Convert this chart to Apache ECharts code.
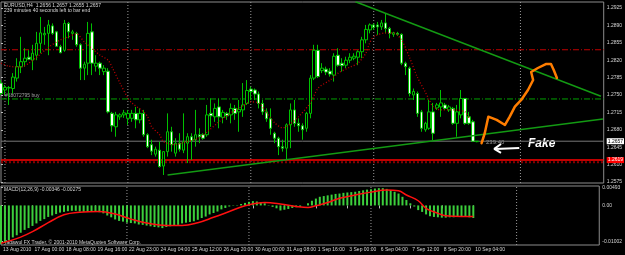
<!DOCTYPE html>
<html><head><meta charset="utf-8">
<script src="https://cdn.jsdelivr.net/npm/echarts@6/dist/echarts.min.js"></script>
<style>html,body{margin:0;padding:0;background:#000;}#c{width:625px;height:255px;}</style>
</head><body><div id="c"></div><script>
const timeLabels = ['13 Aug 2010','17 Aug 00:00','18 Aug 08:00','19 Aug 16:00','22 Aug 23:00','24 Aug 04:00','25 Aug 12:00','26 Aug 20:00','30 Aug 00:00','31 Aug 08:00','1 Sep 16:00','3 Sep 00:00','6 Sep 04:00','7 Sep 12:00','8 Sep 20:00','10 Sep 04:00'];
const opens = [1.2774,1.2760,1.2764,1.2763,1.2784,1.2807,1.2817,1.2826,1.2820,1.2830,
1.2854,1.2871,1.2874,1.2889,1.2877,1.2847,1.2840,1.2894,1.2874,1.2874,
1.2851,1.2804,1.2814,1.2877,1.2808,1.2814,1.2797,1.2798,1.2713,1.2686,
1.2706,1.2710,1.2703,1.2703,1.2713,1.2700,1.2713,1.2670,1.2650,1.2631,
1.2639,1.2607,1.2636,1.2676,1.2633,1.2653,1.2639,1.2653,1.2666,1.2660,
1.2670,1.2670,1.2670,1.2713,1.2706,1.2726,1.2705,1.2713,1.2710,1.2723,
1.2716,1.2720,1.2733,1.2762,1.2760,1.2752,1.2733,1.2716,1.2702,1.2673,
1.2663,1.2646,1.2643,1.2690,1.2720,1.2693,1.2688,1.2683,1.2713,1.2784,
1.2840,1.2799,1.2802,1.2798,1.2790,1.2830,1.2814,1.2810,1.2820,1.2824,
1.2826,1.2837,1.2861,1.2881,1.2891,1.2891,1.2887,1.2895,1.2884,1.2872,
1.2874,1.2872,1.2814,1.2804,1.2750,1.2753,1.2716,1.2680,1.2683,1.2716,
1.2724,1.2726,1.2730,1.2720,1.2723,1.2693,1.2710,1.2743,1.2706,1.2696,1.2656];
const closes = [1.2753,1.2765,1.2765,1.2786,1.2807,1.2817,1.2824,1.2822,1.2834,1.2854,
1.2875,1.2874,1.2891,1.2874,1.2848,1.2835,1.2894,1.2877,1.2877,1.2851,
1.2804,1.2812,1.2874,1.2814,1.2814,1.2804,1.2804,1.2716,1.2688,1.2710,
1.2710,1.2714,1.2713,1.2713,1.2700,1.2713,1.2670,1.2646,1.2637,1.2641,
1.2606,1.2636,1.2676,1.2650,1.2653,1.2641,1.2656,1.2666,1.2658,1.2670,
1.2666,1.2663,1.2710,1.2708,1.2723,1.2706,1.2715,1.2708,1.2723,1.2713,
1.2721,1.2730,1.2759,1.2757,1.2752,1.2733,1.2716,1.2702,1.2683,1.2663,
1.2646,1.2643,1.2690,1.2720,1.2693,1.2688,1.2680,1.2713,1.2784,1.2840,
1.2787,1.2804,1.2796,1.2792,1.2828,1.2810,1.2809,1.2820,1.2826,1.2828,
1.2837,1.2861,1.2882,1.2891,1.2886,1.2887,1.2895,1.2884,1.2874,1.2875,
1.2872,1.2814,1.2807,1.2753,1.2757,1.2713,1.2683,1.2693,1.2716,1.2673,
1.2730,1.2734,1.2723,1.2726,1.2693,1.2716,1.2743,1.2693,1.2693,1.2657,1.2657];
const highs = [1.2780,1.2770,1.2768,1.2794,1.2824,1.2867,1.2844,1.2840,1.2851,1.2877,
1.2907,1.2887,1.2901,1.2894,1.2879,1.2851,1.2901,1.2897,1.2881,1.2877,
1.2854,1.2817,1.2897,1.2894,1.2830,1.2817,1.2810,1.2804,1.2716,1.2716,
1.2713,1.2720,1.2720,1.2720,1.2726,1.2723,1.2720,1.2673,1.2660,1.2646,
1.2656,1.2637,1.2713,1.2686,1.2663,1.2673,1.2713,1.2673,1.2673,1.2720,
1.2683,1.2673,1.2730,1.2743,1.2733,1.2743,1.2720,1.2716,1.2733,1.2730,
1.2740,1.2774,1.2780,1.2767,1.2763,1.2757,1.2740,1.2723,1.2723,1.2676,
1.2666,1.2660,1.2693,1.2733,1.2740,1.2703,1.2693,1.2716,1.2790,1.2851,
1.2851,1.2814,1.2807,1.2804,1.2834,1.2844,1.2824,1.2827,1.2834,1.2834,
1.2840,1.2867,1.2891,1.2894,1.2894,1.2897,1.2901,1.2914,1.2887,1.2877,
1.2877,1.2874,1.2817,1.2807,1.2763,1.2757,1.2720,1.2696,1.2740,1.2734,
1.2734,1.2760,1.2734,1.2730,1.2726,1.2730,1.2760,1.2744,1.2716,1.2700,1.2657];
const lows = [1.2750,1.2750,1.2730,1.2753,1.2777,1.2794,1.2807,1.2820,1.2800,1.2820,
1.2834,1.2851,1.2830,1.2871,1.2847,1.2834,1.2837,1.2864,1.2861,1.2847,
1.2780,1.2780,1.2790,1.2790,1.2797,1.2790,1.2790,1.2713,1.2676,1.2666,
1.2700,1.2704,1.2690,1.2696,1.2683,1.2693,1.2666,1.2643,1.2629,1.2626,
1.2604,1.2589,1.2626,1.2636,1.2626,1.2636,1.2633,1.2613,1.2619,1.2646,
1.2653,1.2660,1.2666,1.2686,1.2696,1.2683,1.2693,1.2700,1.2693,1.2700,
1.2676,1.2706,1.2730,1.2740,1.2740,1.2723,1.2710,1.2696,1.2670,1.2653,
1.2629,1.2636,1.2619,1.2643,1.2686,1.2676,1.2660,1.2676,1.2703,1.2780,
1.2784,1.2794,1.2790,1.2787,1.2777,1.2807,1.2797,1.2804,1.2814,1.2820,
1.2810,1.2824,1.2854,1.2874,1.2881,1.2871,1.2881,1.2874,1.2864,1.2867,
1.2869,1.2810,1.2790,1.2747,1.2740,1.2706,1.2676,1.2676,1.2680,1.2659,
1.2720,1.2706,1.2720,1.2716,1.2690,1.2666,1.2703,1.2690,1.2690,1.2656,1.2655];
// dotted moving average, read at sampled bars
const maPoints = {0:1.2814,2:1.2808,5:1.2806,7:1.2814,9:1.2826,12:1.2846,15:1.2861,17:1.2867,19:1.2873,21:1.2857,25:1.2830,27:1.2820,28:1.2806,30:1.2774,32:1.2744,33:1.2734,36:1.2716,37:1.2706,38:1.2686,40:1.2670,41:1.2656,44:1.2650,46:1.2654,50:1.2664,52:1.2676,55:1.2696,58:1.2714,61:1.2728,63:1.2736,65:1.2734,67:1.2714,69:1.2694,71:1.2684,72:1.2686,75:1.2706,78:1.2734,80:1.2764,83:1.2780,85:1.2794,88:1.2806,90:1.2814,92:1.2834,93:1.2855,94:1.2867,97:1.2875,99:1.2875,101:1.2861,103:1.2826,105:1.2786,107:1.2756,108:1.2740,109:1.2726,111:1.2720,114:1.2720,117:1.2716,118:1.2704};
const macdMain = [-0.0107,-0.0104,-0.0097,-0.0089,-0.0083,-0.0076,-0.0068,-0.0063,-0.0057,-0.0050,
-0.0043,-0.0038,-0.0032,-0.0028,-0.0024,-0.0020,-0.0018,-0.0016,-0.0015,-0.0015,
-0.0017,-0.0018,-0.0018,-0.0018,-0.0018,-0.0019,-0.0022,-0.0028,-0.0033,-0.0039,
-0.0043,-0.0045,-0.0048,-0.0049,-0.0050,-0.0053,-0.0054,-0.0056,-0.0058,-0.0060,
-0.0061,-0.0063,-0.0060,-0.0058,-0.0056,-0.0054,-0.0050,-0.0048,-0.0046,-0.0044,
-0.0040,-0.0035,-0.0031,-0.0025,-0.0021,-0.0017,-0.0011,-0.0007,-0.0003,-0.0001,
0.0001,0.0004,0.0007,0.0010,0.0012,0.0011,0.0008,0.0006,0.0001,-0.0004,
-0.0008,-0.0014,-0.0012,-0.0010,-0.0007,-0.0005,-0.0004,0.0000,0.0006,0.0013,
0.0019,0.0024,0.0026,0.0028,0.0030,0.0032,0.0033,0.0035,0.0036,0.0037,
0.0038,0.0040,0.0042,0.0044,0.0045,0.0047,0.0048,0.0048,0.0046,0.0043,
0.0038,0.0033,0.0024,0.0015,0.0006,-0.0003,-0.0013,-0.0018,-0.0025,-0.0030,
-0.0032,-0.0033,-0.0034,-0.0034,-0.0033,-0.0033,-0.0031,-0.0031,-0.0031,-0.0033,-0.0035];
const signalPoints = {0:-0.0105,5:-0.0088,8:-0.0073,12:-0.0048,16:-0.0026,20:-0.0019,25:-0.0017,29:-0.0024,33:-0.0038,37:-0.0049,42:-0.0056,46:-0.0056,50:-0.0048,54:-0.0033,58:-0.0017,62:-0.0001,67:0.0008,71:0.0004,75:-0.0003,78:-0.0006,80:-0.0001,83:0.0008,86:0.0020,90:0.0029,94:0.0037,98:0.0043,101:0.0041,103:0.0029,106:0.0013,108:-0.0008,111:-0.0022,113:-0.0029,117:-0.0031,120:-0.0031};
const priceTicks = [1.2925,1.2890,1.2855,1.2820,1.2785,1.2750,1.2715,1.2680,1.2645,1.2610,1.2575];
const macdTicks = [0.00493,0,-0.01002];
const takeProfit = 1.2841, buyOpen = 1.2742, bidPrice = 1.2657, stopLoss = 1.2619, stopLoss2 = 1.26147;
const separators = [1,32,63,94,131];
const trendDown = [[89.4,1.29375],[151.3,1.27474]];
const trendUp = [[42.0,1.25892],[151.8,1.27018]];
const orangePath = [[121.2,1.26529],[122.0,1.26730],[122.9,1.27064],[125.0,1.26998],[127.1,1.26897],[128.3,1.27064],[129.6,1.27265],[131.2,1.27400],[132.9,1.27601],[134.2,1.27802],[133.7,1.27962],[135.4,1.28043],[137.4,1.28123],[138.7,1.28123],[139.4,1.28003],[140.2,1.27842]];
const arrowShaft = [[124.6,1.26415],[130.7,1.26435]];
const arrowHead = [[126.1,1.26515],[124.4,1.26415],[126.1,1.26334]];

const NCAT = 153;
const PMIN = 1.25729, PMAX = 1.29371, MMIN = -0.0110, MMAX = 0.0054;
const cats = Array.from({length:NCAT},(_,i)=>String(i));
const candleData = opens.map((o,i)=>[o,closes[i],lows[i],highs[i]]);
const maData = cats.map((c,i)=> maPoints[i]!==undefined ? maPoints[i] : null);
const sigData = cats.map((c,i)=> signalPoints[i]!==undefined ? signalPoints[i] : null);
const FONT = 'Liberation Sans';
const TXT = '#d6d6d6';
const showLab = (i)=> i%8===0 && i/8 < timeLabels.length;

function hLine(v, style, label){
  const s = {type:'line', xAxisIndex:2, yAxisIndex:0, data:[[0,v],[NCAT-1,v]], symbol:'none', silent:true, lineStyle:style, z:2};
  if (label) s.endLabel = Object.assign({show:true, distance:3, fontSize:5, fontFamily:FONT, padding:[1,1,0,1]}, label);
  return s;
}
function vLine(x, xi, yi, lo, hi){
  return {type:'line', xAxisIndex:xi, yAxisIndex:yi, data:[[x,lo],[x,hi]], symbol:'none', silent:true,
    lineStyle:{color:'#9a9a9a', width:1, type:[1,2]}, z:1};
}

const series = [
  hLine(takeProfit, {color:'#c00000', width:1, type:[6,2,1,2]}),
  hLine(buyOpen, {color:'#00a000', width:1, type:[6,2,1,2]}),
  hLine(stopLoss2, {color:'#8a0000', width:2, type:[2,2]}),
  hLine(stopLoss, {color:'#ff0000', width:1.5}, {formatter:stopLoss.toFixed(4), backgroundColor:'#ff0000', color:'#ffffff'}),
  hLine(bidPrice, {color:'#777777', width:1}, {formatter:bidPrice.toFixed(4), backgroundColor:'#ffffff', color:'#000000'}),
  ...separators.map(s=>vLine(s,2,0,PMIN,PMAX)),
  ...separators.map(s=>vLine(s,3,1,MMIN,MMAX)),
  {type:'candlestick', xAxisIndex:0, yAxisIndex:0, data:candleData, barWidth:3, z:3,
    itemStyle:{color:'#000000', color0:'#ffffff', borderColor:'#00c000', borderColor0:'#00c000', borderWidth:1}},
  {type:'line', xAxisIndex:0, yAxisIndex:0, data:maData, connectNulls:true, smooth:0.3, symbol:'none',
    lineStyle:{color:'#c00000', width:1.3, type:[1,2]}, z:4},
  {type:'line', xAxisIndex:2, yAxisIndex:0, data:trendDown, symbol:'none', lineStyle:{color:'#139a13', width:1.5}, z:5},
  {type:'line', xAxisIndex:2, yAxisIndex:0, data:trendUp, symbol:'none', lineStyle:{color:'#139a13', width:1.5}, z:5},
  {type:'line', xAxisIndex:2, yAxisIndex:0, data:orangePath, symbol:'none', lineStyle:{color:'#ff7d00', width:2.5, join:'round', cap:'round'}, z:6},
  {type:'line', xAxisIndex:2, yAxisIndex:0, data:arrowShaft, symbol:'none', lineStyle:{color:'#ffffff', width:2}, z:6},
  {type:'line', xAxisIndex:2, yAxisIndex:0, data:arrowHead, symbol:'none', lineStyle:{color:'#ffffff', width:2}, z:6},
  {type:'bar', xAxisIndex:1, yAxisIndex:1, data:macdMain, barWidth:2, itemStyle:{color:'#3ccf3c'}, z:3},
  {type:'line', xAxisIndex:1, yAxisIndex:1, data:sigData, connectNulls:true, smooth:0.4, symbol:'none',
    lineStyle:{color:'#ff1010', width:1.5}, z:5}
];

const chart = echarts.init(document.getElementById('c'), null, {renderer:'canvas'});
chart.setOption({
  backgroundColor:'#000000',
  animation:false,
  grid:[
    {left:1, width:605, top:2, height:181, show:true, borderColor:'#8c8c8c', borderWidth:1},
    {left:1, width:605, top:186, height:59, show:true, borderColor:'#8c8c8c', borderWidth:1}
  ],
  xAxis:[
    {type:'category', gridIndex:0, data:cats, boundaryGap:false, show:false},
    {type:'category', gridIndex:1, data:cats, boundaryGap:false,
      axisLine:{show:false}, splitLine:{show:false},
      axisTick:{interval:(i)=>showLab(i), length:3, lineStyle:{color:'#bbbbbb'}},
      axisLabel:{interval:(i)=>showLab(i), formatter:(v,i)=>timeLabels[i/8], align:'left', padding:[0,0,0,2], margin:2, fontSize:5, fontFamily:FONT, color:TXT}},
    {type:'value', gridIndex:0, min:0, max:NCAT-1, show:false},
    {type:'value', gridIndex:1, min:0, max:NCAT-1, show:false}
  ],
  yAxis:[
    {type:'value', gridIndex:0, position:'right', min:PMIN, max:PMAX,
      splitLine:{show:false}, axisLine:{show:false},
      axisTick:{show:true, length:2, customValues:priceTicks, lineStyle:{color:'#bbbbbb'}},
      axisLabel:{customValues:priceTicks, formatter:(v)=>v.toFixed(4), margin:3, fontSize:5, fontFamily:FONT, color:TXT}},
    {type:'value', gridIndex:1, position:'right', min:MMIN, max:MMAX,
      splitLine:{show:false}, axisLine:{show:false},
      axisTick:{show:true, length:2, customValues:macdTicks, lineStyle:{color:'#bbbbbb'}},
      axisLabel:{customValues:macdTicks, formatter:(v)=> v===0 ? '0.00' : v.toFixed(5), margin:3, fontSize:5, fontFamily:FONT, color:TXT}}
  ],
  series: series,
  graphic:[
    {type:'text', left:4, top:3, style:{text:'EURUSD,H4  1.2656 1.2657 1.2655 1.2657', fill:TXT, fontSize:5, fontFamily:FONT}},
    {type:'text', left:4, top:8, style:{text:'239 minutes 40 seconds left to bar end', fill:TXT, fontSize:5, fontFamily:FONT}},
    {type:'text', left:5, top:93, style:{text:'#18072795 buy', fill:'#a0a0a0', fontSize:5, fontFamily:FONT}},
    {type:'text', left:486, top:139, style:{text:'239:40', fill:'#9a9a9a', fontSize:6, fontFamily:FONT}},
    {type:'text', left:528, top:138, style:{text:'Fake', fill:'#ffffff', fontSize:12, fontWeight:'bold', fontStyle:'italic', fontFamily:FONT}},
    {type:'text', left:4, top:187, style:{text:'MACD(12,26,9) -0.00346 -0.00275', fill:TXT, fontSize:5, fontFamily:FONT}},
    {type:'text', left:4, top:240, style:{text:'Tadawul FX Trader, \u00a9 2001-2010 MetaQuotes Software Corp.', fill:TXT, fontSize:5, fontFamily:FONT}}
  ]
});
</script></body></html>
